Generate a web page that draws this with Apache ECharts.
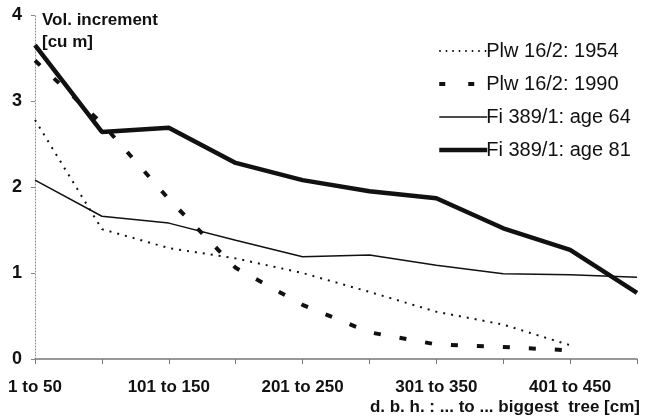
<!DOCTYPE html>
<html>
<head>
<meta charset="utf-8">
<script src="https://cdn.jsdelivr.net/npm/echarts@6/dist/echarts.min.js"></script>
<style>html,body{margin:0;padding:0;background:#fff}#c{width:647px;height:418px}</style>
</head>
<body>
<div id="c"></div>
<script>
var categories = ["1 to 50","51 to 100","101 to 150","151 to 200","201 to 250","251 to 300","301 to 350","351 to 400","401 to 450","451 to 500"];
var plw1954 = [2.78, 1.51, 1.29, 1.17, 1.00, 0.78, 0.55, 0.40, 0.16, null];
var plw1990 = [3.47, 2.74, 1.86, 1.06, 0.63, 0.31, 0.17, 0.14, 0.10, null];
var fi64 = [2.08, 1.66, 1.58, 1.38, 1.19, 1.21, 1.09, 0.99, 0.98, 0.95];
var fi81 = [3.65, 2.64, 2.69, 2.28, 2.08, 1.95, 1.87, 1.52, 1.27, 0.77];
var yTicks = [0, 1, 2, 3, 4];
var seriesNames = ['Plw 16/2: 1954', 'Plw 16/2: 1990', 'Fi 389/1: age 64', 'Fi 389/1: age 81'];

var font = "'Liberation Sans', Arial, sans-serif";
var ink = '#111';
var styles = [
  {color: ink, width: 2, type: [2, 6]},
  {color: ink, width: 4, type: [7, 19]},
  {color: ink, width: 1.5, type: 'solid'},
  {color: ink, width: 4.5, type: 'solid'}
];
var values = [plw1954, plw1990, fi64, fi81];

var chart = echarts.init(document.getElementById('c'), null, {renderer: 'canvas'});
chart.setOption({
  animation: false,
  backgroundColor: '#fff',
  title: [
    {text: 'Vol. increment\n[cu m]', left: 37, top: 4,
     textStyle: {fontFamily: font, fontSize: 17, fontWeight: 'bold', color: ink, lineHeight: 22}},
    {text: 'd. b. h. : ... to ... biggest  tree [cm]', right: 2, top: 394,
     textStyle: {fontFamily: font, fontSize: 17, fontWeight: 'bold', color: ink}}
  ],
  legend: {
    orient: 'vertical', left: 432, top: 36,
    itemWidth: 48, itemHeight: 12, itemGap: 13,
    itemStyle: {opacity: 0},
    textStyle: {fontFamily: font, fontSize: 20, color: ink, padding: [0,0,0,-6]},
    data: seriesNames.map(function (n, i) {
      return {name: n, lineStyle: {color: ink, width: styles[i].width, type: styles[i].type === 'solid' ? 'solid' : (i === 1 ? [6, 23] : [1.5, 5])}};
    })
  },
  grid: {left: 35, right: 10, top: 15, bottom: 59, containLabel: false},
  xAxis: {
    type: 'category', data: categories, boundaryGap: false,
    axisLine: {lineStyle: {color: '#777', width: 1.5}},
    axisTick: {interval: 0, length: 5, lineStyle: {color: '#777'}},
    axisLabel: {interval: 1, margin: 20, fontFamily: font, fontSize: 17, fontWeight: 'bold', color: ink},
    splitLine: {show: false}
  },
  yAxis: {
    type: 'value', min: yTicks[0], max: yTicks[yTicks.length-1], interval: 1,
    axisLine: {show: true, lineStyle: {color: '#888', width: 1, type: [1, 2]}},
    axisTick: {show: true, length: 4, lineStyle: {color: '#888'}},
    axisLabel: {margin: 13, fontFamily: font, fontSize: 18, fontWeight: 'bold', color: ink},
    splitLine: {show: false}
  },
  series: seriesNames.map(function (n, i) {
    return {name: n, type: 'line', data: values[i], symbol: 'none', color: ink,
            lineStyle: styles[i]};
  })
});
</script>
</body>
</html>
